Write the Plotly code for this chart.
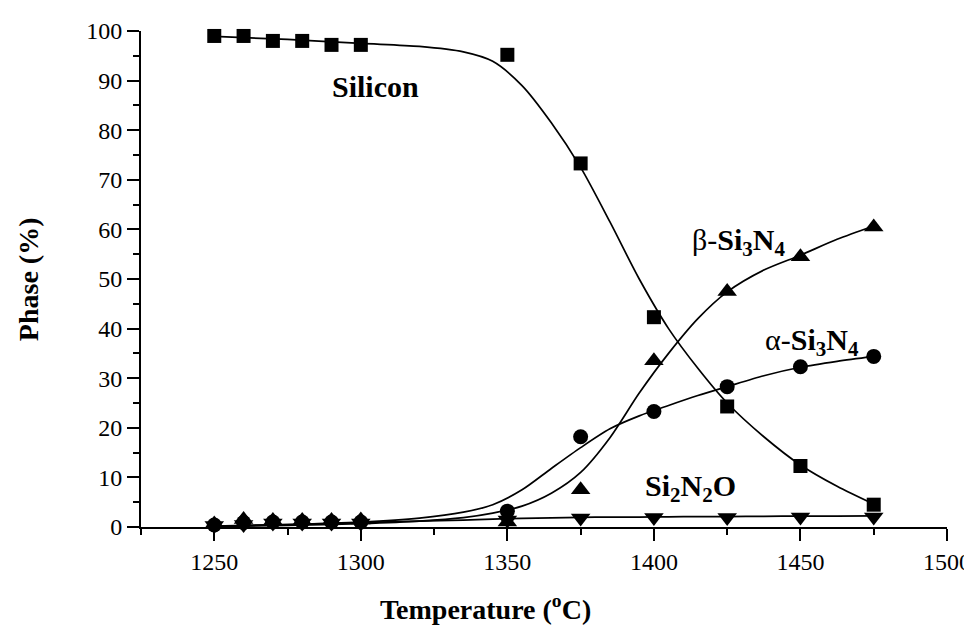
import plotly.graph_objects as go

# Measured data points
temp = [1250, 1260, 1270, 1280, 1290, 1300, 1350, 1375, 1400, 1425, 1450, 1475]
silicon = [99.0, 99.0, 98.0, 98.0, 97.2, 97.2, 95.2, 73.3, 42.3, 24.3, 12.3, 4.5]
beta_si3n4 = [0.6, 1.5, 1.3, 1.3, 1.3, 1.4, 1.0, 7.5, 33.5, 47.5, 54.5, 60.5]
alpha_si3n4 = [0.4, 0.9, 1.0, 1.0, 1.0, 1.0, 3.2, 18.2, 23.3, 28.3, 32.3, 34.4]
si2n2o = [0.3, 0.5, 0.8, 0.8, 0.8, 0.8, 1.4, 1.8, 1.9, 1.9, 2.0, 2.0]

# Fitted curves
curve_t = [1250, 1275, 1300, 1320, 1335, 1345, 1355, 1365, 1375, 1385, 1395, 1405, 1415, 1425, 1437.5, 1450, 1462.5, 1475]
silicon_fit = [98.9, 98.3, 97.5, 96.9, 95.8, 93.9, 89.0, 81.5, 72.5, 61.5, 50.0, 40.0, 32.0, 25.0, 18.2, 12.5, 8.2, 4.6]
beta_fit = [0.1, 0.3, 0.7, 1.2, 1.9, 2.8, 4.2, 6.8, 11.0, 18.0, 27.0, 35.0, 42.0, 47.4, 51.8, 54.8, 58.0, 60.7]
alpha_fit = [0.2, 0.5, 1.0, 1.8, 3.0, 4.5, 7.5, 11.8, 16.0, 19.8, 22.4, 24.5, 26.5, 28.3, 30.5, 32.2, 33.4, 34.4]
si2n2o_fit = [0.1, 0.5, 0.9, 1.2, 1.4, 1.6, 1.75, 1.85, 1.95, 2.0, 2.0, 2.05, 2.1, 2.1, 2.15, 2.2, 2.2, 2.25]

x_ticks = [1250, 1300, 1350, 1400, 1450, 1500]
y_ticks = [0, 10, 20, 30, 40, 50, 60, 70, 80, 90, 100]

fig = go.Figure()

for fit in [silicon_fit, beta_fit, alpha_fit, si2n2o_fit]:
    fig.add_trace(go.Scatter(x=curve_t, y=fit, mode="lines",
                             line=dict(color="black", width=1.7, shape="spline", smoothing=0.8),
                             showlegend=False, hoverinfo="skip", cliponaxis=False))

series = [
    (silicon, "square", 14),
    (beta_si3n4, "triangle-up", 17),
    (alpha_si3n4, "circle", 15),
    (si2n2o, "triangle-down", 17),
]
for vals, sym, sz in series:
    fig.add_trace(go.Scatter(x=temp, y=vals, mode="markers",
                             marker=dict(symbol=sym, size=sz, color="black", line=dict(width=0)),
                             showlegend=False, cliponaxis=False))

lab_font = dict(family="Liberation Serif", size=30, color="black")
fig.add_annotation(x=1305, y=88.9, text="<b>Silicon</b>", showarrow=False, font=lab_font)
fig.add_annotation(x=1429, y=57.5, text="β-<b>Si<sub>3</sub>N<sub>4</sub></b>", showarrow=False, font=lab_font)
fig.add_annotation(x=1454, y=37.2, text="α-<b>Si<sub>3</sub>N<sub>4</sub></b>", showarrow=False, font=lab_font)
fig.add_annotation(x=1412.5, y=7.8, text="<b>Si<sub>2</sub>N<sub>2</sub>O</b>", showarrow=False, font=lab_font)

title_font = dict(family="Liberation Serif", size=28, color="black")
fig.add_annotation(x=1342.5, xref="x", y=-0.163, yref="paper", yanchor="middle",
                   text="<b>Temperature (<sup>o</sup>C)</b>", showarrow=False, font=title_font)
fig.add_annotation(x=-0.140, xref="paper", y=50, yref="y", xanchor="center",
                   text="<b>Phase (%)</b>", textangle=-90, showarrow=False, font=title_font)

axis_common = dict(
    showline=True, linecolor="black", linewidth=2, showgrid=False, zeroline=False,
    ticks="outside", tickcolor="black", tickwidth=1.5, ticklen=12,
    tickfont=dict(family="Liberation Serif", size=24, color="black"),
    ticklabeloverflow="allow", automargin=False,
)

# The page body adds an 8px offset, so the figure is 8px smaller and margins shifted
fig.update_layout(
    width=964, height=618,
    margin=dict(l=133, r=25, t=23, b=99, autoexpand=False),
    paper_bgcolor="white", plot_bgcolor="white",
    xaxis=dict(range=[1225, 1500], tickvals=x_ticks,
               minor=dict(ticks="outside", ticklen=6, dtick=25, tick0=1225, tickcolor="black", tickwidth=1.5),
               **axis_common),
    yaxis=dict(range=[0, 100], tickvals=y_ticks,
               minor=dict(ticks="outside", ticklen=6, dtick=5, tick0=0, tickcolor="black", tickwidth=1.5),
               **axis_common),
)

fig.write_html("out.html")
